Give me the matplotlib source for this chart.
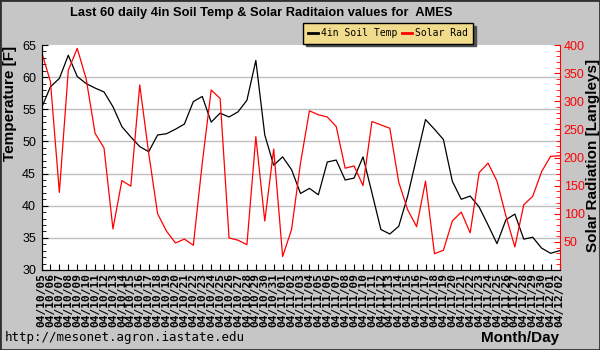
import numpy as np
import pandas as pd
import matplotlib
matplotlib.use("Agg")
import matplotlib.pyplot as plt
from matplotlib.patches import Rectangle
from matplotlib.ticker import MultipleLocator

# 59 daily values, 04/10/05 .. 04/12/02
days = pd.date_range("2004-10-05", "2004-12-02").strftime("%y/%m/%d").tolist()

soil_temp = [55.2, 58.5, 59.8, 63.4, 60.1, 59.0, 58.3, 57.7, 55.4, 52.3,
             50.7, 49.2, 48.4, 51.0, 51.2, 51.9, 52.7, 56.2, 57.0, 53.0,
             54.4, 53.8, 54.6, 56.4, 62.6, 51.0, 46.3, 47.6, 45.6, 41.9,
             42.7, 41.7, 46.8, 47.1, 44.0, 44.3, 47.6, 42.0, 36.3, 35.6,
             36.8, 41.5, 47.5, 53.4, 51.9, 50.3, 43.8, 41.0, 41.5, 39.8,
             37.0, 34.1, 37.8, 38.7, 34.8, 35.1, 33.4, 32.6, 33.0]

solar_rad = [388, 335, 138, 355, 394, 340, 243, 217, 73, 159,
             149, 329, 208, 100, 69, 48, 55, 44, 190, 320,
             305, 57, 53, 45, 237, 87, 215, 24, 72, 190,
             283, 276, 272, 255, 181, 185, 150, 264, 258, 252,
             156, 107, 77, 158, 29, 35, 87, 103, 66, 173,
             190, 158, 96, 41, 116, 131, 175, 202, 203]

title = "Last 60 daily 4in Soil Temp & Solar Raditaion values for  AMES"

bg = "#c6c6c6"
mono = "DejaVu Sans Mono"
sans = "Liberation Sans"

fig = plt.figure(figsize=(6, 3.5), dpi=100, facecolor=bg)
ax = fig.add_axes([41.5 / 600, 80 / 350, 518 / 600, 225 / 350])
ax2 = ax.twinx()

x = np.arange(len(days))

ax.set_xlim(0, len(days) - 1)
ax.set_ylim(30, 65)
ax2.set_ylim(0, 400)

# grid only on inner major ticks
for y in range(35, 65, 5):
    ax.axhline(y, color="#c0c0c0", lw=1, zorder=0)

ax.plot(x, soil_temp, color="black", lw=0.9, label="4in Soil Temp")
ax2.plot(x, solar_rad, color="red", lw=0.9, label="Solar Rad")

# left axis
ax.yaxis.set_major_locator(MultipleLocator(5))
ax.yaxis.set_minor_locator(MultipleLocator(1))
ax.tick_params(axis="y", which="major", direction="in", length=4, pad=4,
               labelsize=9)
ax.tick_params(axis="y", which="minor", direction="in", length=3)
for t in ax.get_yticklabels():
    t.set_fontfamily(sans)

# right axis
ax2.set_yticks(np.arange(50, 401, 50))
ax2.yaxis.set_minor_locator(MultipleLocator(10))
ax2.tick_params(axis="y", which="both", direction="in", colors="red",
                labelsize=9, pad=3)
ax2.tick_params(axis="y", which="major", length=4)
ax2.tick_params(axis="y", which="minor", length=3)
for t in ax2.get_yticklabels():
    t.set_fontfamily(sans)

# x axis
ax.set_xticks(x)
ax.set_xticklabels(days, rotation=90, fontfamily=mono, fontsize=8,
                   fontweight="bold")
ax.tick_params(axis="x", direction="in", length=4, pad=2)

for a in (ax, ax2):
    a.spines["top"].set_visible(False)
    a.set_facecolor("white")
ax2.spines["right"].set_color("red")
ax.spines["right"].set_visible(False)
ax2.patch.set_visible(False)

fig.text(261 / 600, 1 - 13 / 350, title, ha="center", va="center",
         fontsize=9.3, fontweight="bold", fontfamily=sans)
fig.text(10 / 600, 1 - 103 / 350, "Temperature [F]", rotation=90,
         ha="center", va="center", fontsize=11, fontweight="bold",
         fontfamily=sans)
fig.text(593 / 600, 1 - 155 / 350, "Solar Radiation [Langleys]", rotation=90,
         ha="center", va="center", fontsize=11, fontweight="bold",
         fontfamily=sans)
fig.text(559 / 600, 1 - 338 / 350, "Month/Day", ha="right", va="center",
         fontsize=11, fontweight="bold", fontfamily=sans)
fig.text(5 / 600, 1 - 338 / 350, "http://mesonet.agron.iastate.edu",
         ha="left", va="center", fontsize=9, fontfamily=mono)

h1, l1 = ax.get_legend_handles_labels()
h2, l2 = ax2.get_legend_handles_labels()
leg = fig.legend(h1 + h2, l1 + l2, loc="upper left", ncol=2,
                 bbox_to_anchor=(303 / 600, 1 - 23 / 350),
                 bbox_transform=fig.transFigure,
                 prop={"family": mono, "size": 7},
                 handlelength=1.0, handletextpad=0.3, columnspacing=0.5,
                 borderpad=0.55, borderaxespad=0, fancybox=False,
                 framealpha=1, facecolor="#f0dc8c", edgecolor="black",
                 shadow={"color": "#505050", "alpha": 1})
for line in leg.get_lines():
    line.set_linewidth(2)

fig.patches.append(Rectangle((0, 0), 1, 1, transform=fig.transFigure,
                             fill=False, edgecolor="#303030", lw=2))

fig.savefig("out.png", dpi=100, facecolor=bg)
